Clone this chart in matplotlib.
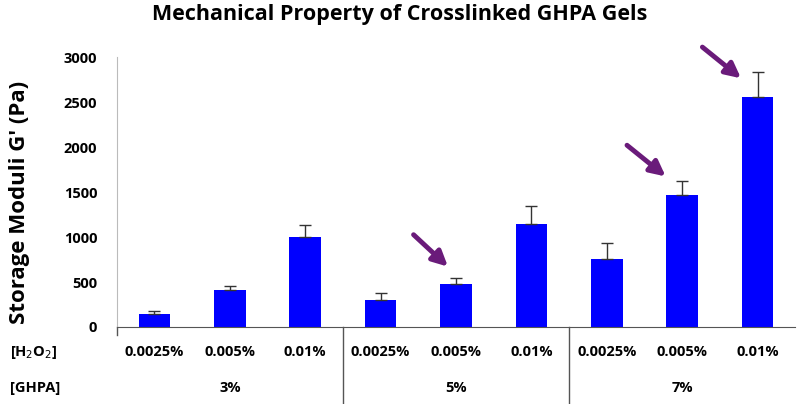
import matplotlib.pyplot as plt
import numpy as np

# data
h2o2_labels = ['0.0025%', '0.005%', '0.01%'] * 3
ghpa_labels = ['3%', '5%', '7%']
storage_moduli = [143, 408, 1003, 298, 474, 1147, 761, 1466, 2558]
errors = [30, 50, 130, 75, 75, 200, 175, 155, 275]
# arrows (start x, start y, end x, end y) in bar index / Pa units
arrows = [(3.41, 1047, 3.92, 650), (6.24, 2040, 6.81, 1654), (7.24, 3131, 7.81, 2745)]

plt.rcParams['font.family'] = ['Open Sans', 'DejaVu Sans']

fig = plt.figure(figsize=(8, 4.04), dpi=100)
ax = fig.add_axes([0.146, 0.1906, 0.848, 0.668])

x = np.arange(len(storage_moduli))
ax.bar(x, storage_moduli, width=0.42, color='#0000FF', zorder=2)
ax.errorbar(x, storage_moduli, yerr=[np.zeros(len(errors)), errors], fmt='none',
            ecolor='#333333', elinewidth=1, capsize=4, capthick=1, zorder=3)

ax.set_xlim(-0.5, 8.5)
ax.set_ylim(0, 3000)
ax.set_yticks(range(0, 3001, 500))
ax.tick_params(axis='y', length=0, labelsize=10.5, pad=14)
for lab in ax.get_yticklabels():
    lab.set_fontweight('bold')
ax.set_xticks([])

ax.spines['top'].set_visible(False)
ax.spines['right'].set_visible(False)
ax.spines['left'].set_color('#BBBBBB')
ax.spines['bottom'].set_color('#555555')

ax.set_ylabel("Storage Moduli G' (Pa)", fontsize=16, fontweight='bold')
ax.yaxis.set_label_coords(-0.128, 0.46)
fig.suptitle('Mechanical Property of Crosslinked GHPA Gels', fontsize=15.5,
             fontweight='bold', x=0.5, y=0.99)

# category labels under the axis
trans = ax.get_xaxis_transform()
for i, lab in enumerate(h2o2_labels):
    ax.text(i, -0.093, lab, transform=trans, ha='center', va='center',
            fontsize=10.5, fontweight='bold')
for g, lab in enumerate(ghpa_labels):
    ax.text(g * 3 + 1, -0.225, lab, transform=trans, ha='center', va='center',
            fontsize=10.5, fontweight='bold')
ax.text(-0.158, -0.093, '[H$_2$O$_2$]', transform=ax.transAxes, ha='left',
        va='center', fontsize=10.5, fontweight='bold')
ax.text(-0.158, -0.225, '[GHPA]', transform=ax.transAxes, ha='left',
        va='center', fontsize=10.5, fontweight='bold')

# group separator lines
for sep in [2.5, 5.5]:
    ax.plot([sep, sep], [0, -0.29], transform=trans, color='#555555', lw=1,
            clip_on=False)
ax.plot([-0.5, -0.5], [0, -0.03], transform=trans, color='#555555', lw=1,
        clip_on=False)

for x0, y0, x1, y1 in arrows:
    ax.annotate('', xy=(x1, y1), xytext=(x0, y0), annotation_clip=False,
                arrowprops=dict(arrowstyle='-|>,head_length=0.9,head_width=0.45',
                                color='#6A1B7A', lw=3.5))

fig.savefig('out.png', dpi=100)
